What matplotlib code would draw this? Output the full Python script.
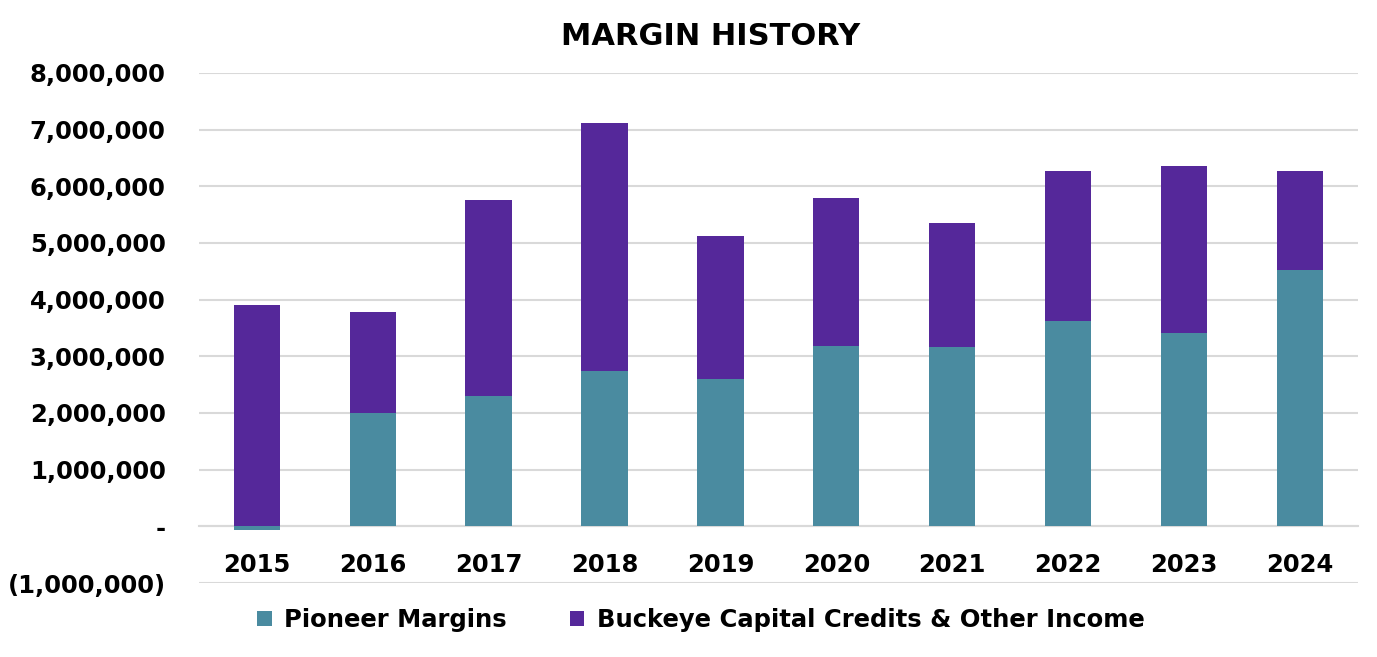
import numpy as np
import matplotlib.pyplot as plt
from matplotlib.ticker import FuncFormatter

years = ['2015', '2016', '2017', '2018', '2019', '2020', '2021', '2022', '2023', '2024']
pioneer = [-60000, 2000000, 2300000, 2740000, 2600000, 3180000, 3160000, 3620000, 3410000, 4520000]
buckeye = [3900000, 1780000, 3460000, 4380000, 2520000, 2620000, 2190000, 2650000, 2950000, 1750000]

teal = '#4A8BA0'
purple = '#55289A'

plt.rcParams['font.family'] = 'DejaVu Sans'
plt.rcParams['font.weight'] = 'bold'

fig = plt.figure(figsize=(13.77, 6.57), dpi=100)
ax = fig.add_axes([0.1445, 0.1126, 0.8415, 0.7764])

x = np.arange(len(years))
pio = np.array(pioneer)
# Excel stacks positive values on zero when the lower series is negative
base = np.where(pio > 0, pio, 0)
ax.bar(x, pio, width=0.4, color=teal, label='Pioneer Margins', zorder=3)
ax.bar(x, buckeye, width=0.4, bottom=base, color=purple,
       label='Buckeye Capital Credits & Other Income', zorder=3)

ax.set_xlim(-0.5, len(years) - 0.5)
ax.set_ylim(-1000000, 8000000)
ax.set_yticks(np.arange(-1000000, 8000001, 1000000))


def fmt(v, pos):
    if v == 0:
        return '-'
    if v < 0:
        return '({:,.0f})'.format(-v)
    return '{:,.0f}'.format(v)


ax.yaxis.set_major_formatter(FuncFormatter(fmt))
ax.grid(axis='y', color='#d9d9d9', linewidth=1.5, zorder=0)
for s in ['top', 'right', 'left']:
    ax.spines[s].set_visible(False)
ax.spines['bottom'].set_position(('data', 0))
ax.spines['bottom'].set_color('#d9d9d9')
ax.spines['bottom'].set_linewidth(1.5)
ax.set_xticks(x)
ax.set_xticklabels(years)
ax.tick_params(axis='x', length=0, pad=19, labelsize=17.5)
ax.tick_params(axis='y', length=0, pad=24, labelsize=17.5)

fig.text(0.516, 0.944, 'MARGIN HISTORY', fontsize=22, fontweight='bold',
         ha='center', va='center')

fig.legend(*ax.get_legend_handles_labels(), loc='center left',
           bbox_to_anchor=(0.171, 0.056), ncol=2, frameon=False,
           fontsize=17.5, handlelength=0.6, handleheight=0.6, handletextpad=0.5,
           columnspacing=2.6)

fig.savefig('out.png', dpi=100)
